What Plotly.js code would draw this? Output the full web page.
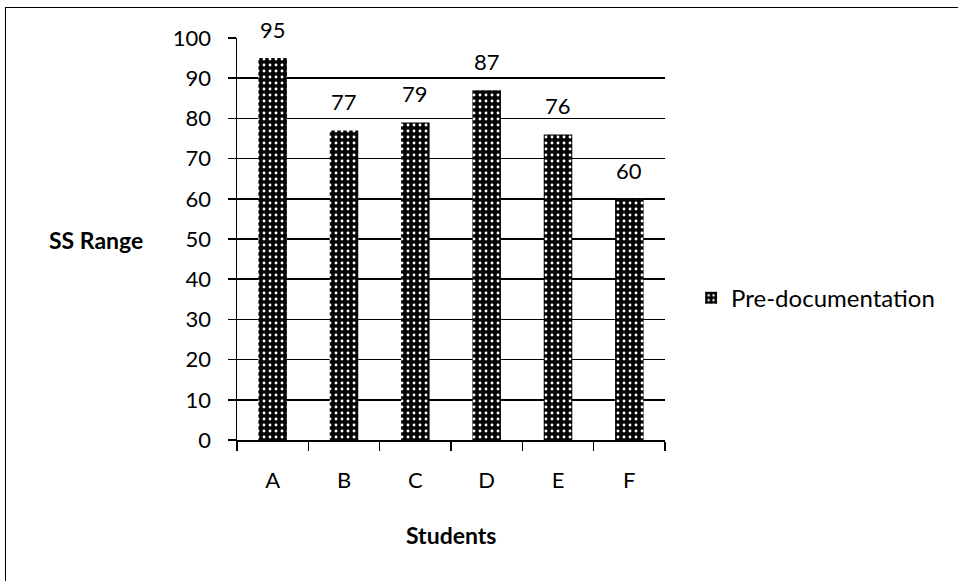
<!DOCTYPE html>
<html><head><meta charset="utf-8">
<script src="https://cdn.plot.ly/plotly-3.0.1.min.js"></script>
<style>
html,body{margin:0;padding:0;background:#fff;}
#frame{position:absolute;left:5px;top:7px;width:1000px;height:600px;border-left:1.5px solid #000;border-top:1.5px solid #000;}
#chart{position:absolute;left:0;top:0;width:958px;height:581px;}
</style></head>
<body>
<div id="frame"></div>
<div id="chart"></div>
<script>
const students = ["A","B","C","D","E","F"];
const preDocumentation = [95,77,79,87,76,60];
const yTicks = [0,10,20,30,40,50,60,70,80,90,100];

const F = "Lato, 'Open Sans', sans-serif";
const trace = {
  type: "bar",
  x: students,
  y: preDocumentation,
  name: "Pre-documentation",
  width: 0.4,
  cliponaxis: false,
  marker: {
    color: "#000",
    line: {width: 0},
    pattern: {shape: ".", fgcolor: "#fff", bgcolor: "#050505", size: 6, solidity: 0.18, fillmode: "replace"}
  }
};
const valueLabels = students.map((s, i) => ({
  text: String(preDocumentation[i]),
  x: s, y: preDocumentation[i], xref: "x", yref: "y",
  xanchor: "center", yanchor: "bottom", yshift: 13,
  showarrow: false, font: {family: F, size: 22, color: "#000"}
}));
const layout = {
  width: 958, height: 581,
  margin: {l: 237, r: 293, t: 38, b: 141},
  paper_bgcolor: "rgba(0,0,0,0)",
  plot_bgcolor: "rgba(0,0,0,0)",
  font: {family: F, size: 22, color: "#000"},
  showlegend: true,
  legend: {x: 1.061, y: 0.353, xanchor: "left", yanchor: "middle", font: {family: F, size: 24}, itemwidth: 30},
  xaxis: {
    type: "category",
    showline: true, linecolor: "#000", linewidth: 1.5,
    ticks: "outside", ticklen: 9, tickcolor: "#000", tickwidth: 1.5,
    tickson: "boundaries",
    tickfont: {family: F, size: 22},
    showgrid: false,
    ticklabelstandoff: 20
  },
  yaxis: {
    range: [0, 100],
    tickvals: yTicks,
    showline: true, linecolor: "#000", linewidth: 1.5,
    ticks: "outside", ticklen: 8, tickcolor: "#000", tickwidth: 1.5,
    showgrid: true, gridcolor: "#000", gridwidth: 1.5,
    tickfont: {family: F, size: 22},
    ticklabelstandoff: 12,
    zeroline: false
  },
  annotations: valueLabels.concat([
    {text: "<b>SS Range</b>", xref: "paper", yref: "paper", x: -0.329, y: 0.4975, xanchor: "center", yanchor: "middle", showarrow: false, font: {family: F, size: 23}},
    {text: "<b>Students</b>", xref: "paper", yref: "paper", x: 0.5, y: -0.236, xanchor: "center", yanchor: "middle", showarrow: false, font: {family: F, size: 23}}
  ])
};
Plotly.newPlot("chart", [trace], layout, {displayModeBar: false, staticPlot: true});
</script>
</body></html>
